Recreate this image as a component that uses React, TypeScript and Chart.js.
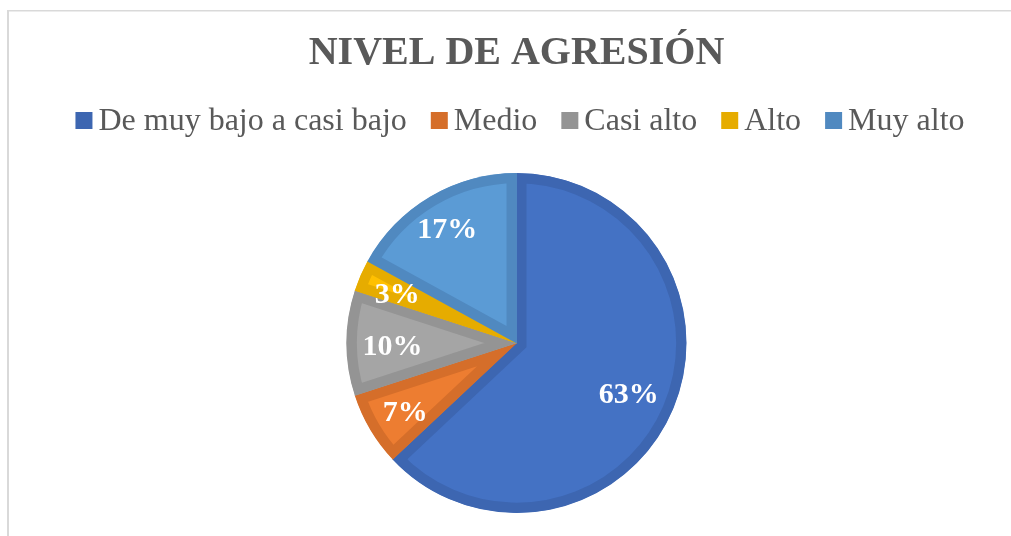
import React, { useEffect, useRef } from "react";
import { Chart, registerables } from "chart.js";

Chart.register(...registerables);

const TITLE = "NIVEL DE AGRESIÓN";
const CATEGORIES = ["De muy bajo a casi bajo", "Medio", "Casi alto", "Alto", "Muy alto"];
const VALUES = [63, 7, 10, 3, 17];
const FILL_COLORS = ["#4472C4", "#ED7D31", "#A5A5A5", "#FFC000", "#5B9BD5"];
const EDGE_COLORS = ["#3D66B1", "#D56E2A", "#949494", "#E6AC00", "#5089C0"];
const LABEL_RADIUS = [0.72, 0.76, 0.73, 0.765, 0.8];

const SERIF = "'Liberation Serif', 'Times New Roman', serif";

const framePlugin = {
  id: "frame",
  beforeDraw(chart: any) {
    const { ctx, width, height } = chart;
    ctx.save();
    ctx.fillStyle = "#ffffff";
    ctx.fillRect(0, 0, width, height);
    ctx.fillStyle = "#D9D9D9";
    ctx.fillRect(7, 10, width - 7, 1.5);
    ctx.fillRect(7, 10, 2, height - 10);
    ctx.restore();
  },
};

const legendPlugin = {
  id: "customLegend",
  afterDraw(chart: any) {
    const { ctx } = chart;
    const labels: string[] = chart.data.labels;
    const colors: string[] = chart.data.datasets[0].borderColor;
    const box = 17;
    const gap = 6;
    const itemGap = 24;
    ctx.save();
    ctx.font = `32px ${SERIF}`;
    const widths = labels.map((l) => ctx.measureText(l).width);
    const total =
      widths.reduce((a, b) => a + b, 0) + labels.length * (box + gap) + (labels.length - 1) * itemGap;
    let x = 520 - total / 2;
    const baseline = 130;
    labels.forEach((l, i) => {
      ctx.fillStyle = colors[i];
      ctx.fillRect(x, 112, box, box);
      x += box + gap;
      ctx.fillStyle = "#595959";
      ctx.textBaseline = "alphabetic";
      ctx.textAlign = "left";
      ctx.fillText(l, x, baseline);
      x += widths[i] + itemGap;
    });
    ctx.restore();
  },
};

const dataLabelPlugin = {
  id: "pctLabels",
  afterDatasetsDraw(chart: any) {
    const { ctx } = chart;
    const meta = chart.getDatasetMeta(0);
    const data: number[] = chart.data.datasets[0].data;
    const sum = data.reduce((a, b) => a + b, 0);
    ctx.save();
    ctx.font = `bold 30px ${SERIF}`;
    ctx.fillStyle = "#ffffff";
    ctx.textAlign = "center";
    ctx.textBaseline = "middle";
    meta.data.forEach((arc: any, i: number) => {
      const { x, y, startAngle, endAngle, outerRadius } = arc.getProps(
        ["x", "y", "startAngle", "endAngle", "outerRadius"],
        true
      );
      const mid = (startAngle + endAngle) / 2;
      const r = outerRadius * LABEL_RADIUS[i];
      const tx = x + Math.cos(mid) * r;
      const ty = y + Math.sin(mid) * r;
      ctx.fillText(Math.round((data[i] / sum) * 100) + "%", tx, ty + 4);
    });
    ctx.restore();
  },
};

export default function App() {
  const ref = useRef<HTMLCanvasElement | null>(null);
  useEffect(() => {
    document.body.style.margin = "0";
    if (!ref.current) return;
    const chart = new Chart(ref.current, {
      type: "pie",
      data: {
        labels: CATEGORIES,
        datasets: [
          {
            data: VALUES,
            backgroundColor: FILL_COLORS,
            borderColor: EDGE_COLORS,
            borderWidth: 10,
            borderAlign: "inner",
            borderJoinStyle: "miter",
            hoverOffset: 0,
          } as any,
        ],
      },
      options: {
        animation: false,
        responsive: false,
        maintainAspectRatio: false,
        layout: { padding: { left: 22, right: 0, top: 0, bottom: 23 } },
        plugins: {
          legend: { display: false },
          tooltip: { enabled: false },
          title: {
            display: true,
            text: TITLE,
            color: "#595959",
            font: { family: SERIF, size: 40, weight: "bold", lineHeight: 1.2 },
            padding: { top: 29.5, bottom: 95.5 },
          },
        },
      },
      plugins: [framePlugin, legendPlugin, dataLabelPlugin],
    });
    return () => chart.destroy();
  }, []);
  return (
    <div style={{ width: 1011, height: 536 }}>
      <canvas ref={ref} width={1011} height={536} style={{ display: "block" }} />
    </div>
  );
}
